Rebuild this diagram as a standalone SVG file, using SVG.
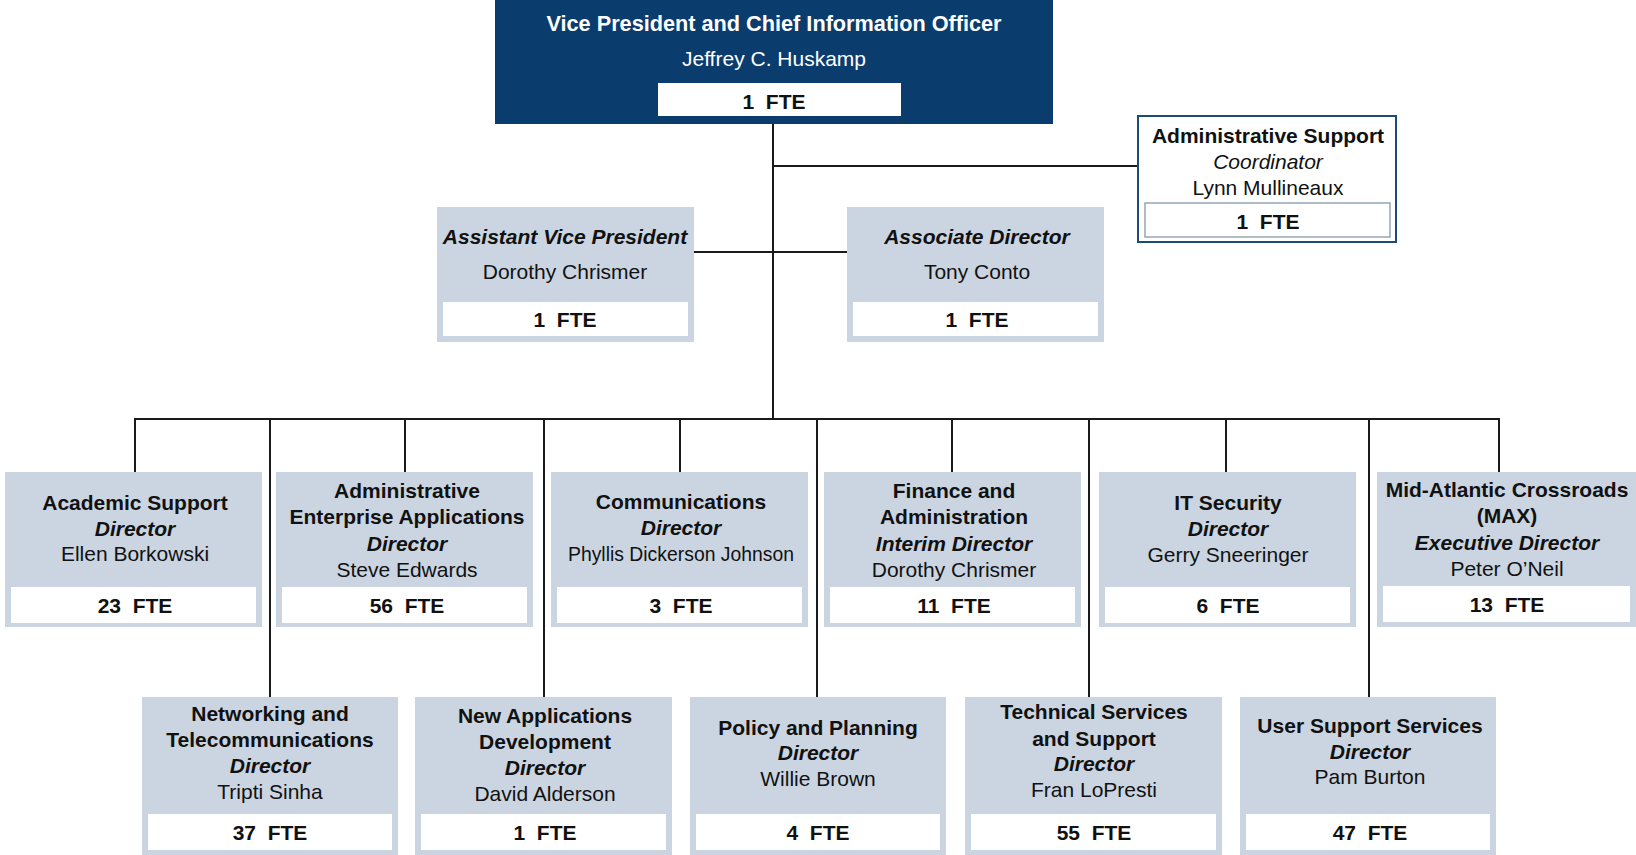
<svg xmlns="http://www.w3.org/2000/svg" width="1636" height="855" viewBox="0 0 1636 855">
<style>
.bg{fill:#ffffff}
.top{fill:#0b3c6e}
.box{fill:#cad5e1}
.fte{fill:#ffffff}
.adm{fill:#ffffff;stroke:#1f4a78;stroke-width:2}
.admfte{fill:#ffffff;stroke:#7d8fa6;stroke-width:1.2}
.ln{stroke:#1a1a1a;stroke-width:2;fill:none}
text{font-family:"Liberation Sans",Arial,sans-serif;font-size:21px;fill:#111;text-anchor:middle;dominant-baseline:central;white-space:pre}
.b{font-weight:bold}
.i{font-style:italic}
.bi{font-weight:bold;font-style:italic}
.w{fill:#ffffff}
.title{font-size:21.7px}
</style>
<rect class="bg" x="0" y="0" width="1636" height="855"/>
<g id="connectors">
<line class="ln" x1="773" y1="124" x2="773" y2="419"/>
<line class="ln" x1="773" y1="166" x2="1138" y2="166"/>
<line class="ln" x1="694" y1="252" x2="847" y2="252"/>
<line class="ln" x1="134" y1="419" x2="1500" y2="419"/>
<line class="ln" x1="135" y1="419" x2="135" y2="472"/>
<line class="ln" x1="405" y1="419" x2="405" y2="472"/>
<line class="ln" x1="680" y1="419" x2="680" y2="472"/>
<line class="ln" x1="952" y1="419" x2="952" y2="472"/>
<line class="ln" x1="1226" y1="419" x2="1226" y2="472"/>
<line class="ln" x1="1499" y1="419" x2="1499" y2="472"/>
<line class="ln" x1="270" y1="419" x2="270" y2="697"/>
<line class="ln" x1="544" y1="419" x2="544" y2="697"/>
<line class="ln" x1="817" y1="419" x2="817" y2="697"/>
<line class="ln" x1="1089" y1="419" x2="1089" y2="697"/>
<line class="ln" x1="1369" y1="419" x2="1369" y2="697"/>
</g>
<g id="vp">
<rect class="top" x="495" y="0" width="558" height="124"/>
<text class="b w title" x="774" y="23">Vice President and Chief Information Officer</text>
<text class="w" x="774" y="58">Jeffrey C. Huskamp</text>
<rect class="fte" x="658" y="83" width="243" height="33"/>
<text class="b" x="774" y="101" xml:space="preserve">1  FTE</text>
</g>
<g id="admin-support">
<rect class="adm" x="1138" y="116" width="258" height="126"/>
<text class="b" x="1268" y="135">Administrative Support</text>
<text class="i" x="1268" y="161">Coordinator</text>
<text x="1268" y="187">Lynn Mullineaux</text>
<rect class="admfte" x="1145" y="203" width="245" height="34"/>
<text class="b" x="1268" y="221" xml:space="preserve">1  FTE</text>
</g>
<g id="avp">
<rect class="box" x="437" y="207" width="257" height="135"/>
<text class="bi" x="565" y="236">Assistant Vice President</text>
<text x="565" y="271">Dorothy Chrismer</text>
<rect class="fte" x="443" y="302" width="245" height="34"/>
<text class="b" x="565" y="319" xml:space="preserve">1  FTE</text>
</g>
<g id="assoc">
<rect class="box" x="847" y="207" width="257" height="135"/>
<text class="bi" x="977" y="236">Associate Director</text>
<text x="977" y="271">Tony Conto</text>
<rect class="fte" x="853" y="302" width="245" height="34"/>
<text class="b" x="977" y="319" xml:space="preserve">1  FTE</text>
</g>
<g id="academic">
<rect class="box" x="5" y="472" width="257" height="155"/>
<text class="b" x="135" y="502">Academic Support</text>
<text class="bi" x="135" y="528">Director</text>
<text x="135" y="553">Ellen Borkowski</text>
<rect class="fte" x="11" y="587" width="245" height="36"/>
<text class="b" x="135" y="605" xml:space="preserve">23  FTE</text>
</g>
<g id="admin-enterprise">
<rect class="box" x="276" y="472" width="257" height="155"/>
<text class="b" x="407" y="490">Administrative</text>
<text class="b" x="407" y="516">Enterprise Applications</text>
<text class="bi" x="407" y="543">Director</text>
<text x="407" y="569">Steve Edwards</text>
<rect class="fte" x="282" y="587" width="245" height="36"/>
<text class="b" x="407" y="605" xml:space="preserve">56  FTE</text>
</g>
<g id="communications">
<rect class="box" x="551" y="472" width="257" height="155"/>
<text class="b" x="681" y="501">Communications</text>
<text class="bi" x="681" y="527">Director</text>
<text x="681" y="553" textLength="226" lengthAdjust="spacingAndGlyphs">Phyllis Dickerson Johnson</text>
<rect class="fte" x="557" y="587" width="245" height="36"/>
<text class="b" x="681" y="605" xml:space="preserve">3  FTE</text>
</g>
<g id="finance">
<rect class="box" x="824" y="472" width="257" height="155"/>
<text class="b" x="954" y="490">Finance and</text>
<text class="b" x="954" y="516">Administration</text>
<text class="bi" x="954" y="543">Interim Director</text>
<text x="954" y="569">Dorothy Chrismer</text>
<rect class="fte" x="830" y="587" width="245" height="36"/>
<text class="b" x="954" y="605" xml:space="preserve">11  FTE</text>
</g>
<g id="it-security">
<rect class="box" x="1099" y="472" width="257" height="155"/>
<text class="b" x="1228" y="502">IT Security</text>
<text class="bi" x="1228" y="528">Director</text>
<text x="1228" y="554">Gerry Sneeringer</text>
<rect class="fte" x="1105" y="587" width="245" height="36"/>
<text class="b" x="1228" y="605" xml:space="preserve">6  FTE</text>
</g>
<g id="max">
<rect class="box" x="1377" y="472" width="259" height="155"/>
<text class="b" x="1507" y="489">Mid-Atlantic Crossroads</text>
<text class="b" x="1507" y="515">(MAX)</text>
<text class="bi" x="1507" y="542">Executive Director</text>
<text x="1507" y="568">Peter O’Neil</text>
<rect class="fte" x="1383" y="586" width="247" height="36"/>
<text class="b" x="1507" y="604" xml:space="preserve">13  FTE</text>
</g>
<g id="networking">
<rect class="box" x="142" y="697" width="256" height="158"/>
<text class="b" x="270" y="713">Networking and</text>
<text class="b" x="270" y="739">Telecommunications</text>
<text class="bi" x="270" y="765">Director</text>
<text x="270" y="791">Tripti Sinha</text>
<rect class="fte" x="148" y="814" width="244" height="36"/>
<text class="b" x="270" y="832" xml:space="preserve">37  FTE</text>
</g>
<g id="new-apps">
<rect class="box" x="415" y="697" width="257" height="158"/>
<text class="b" x="545" y="715">New Applications</text>
<text class="b" x="545" y="741">Development</text>
<text class="bi" x="545" y="767">Director</text>
<text x="545" y="793">David Alderson</text>
<rect class="fte" x="421" y="814" width="245" height="36"/>
<text class="b" x="545" y="832" xml:space="preserve">1  FTE</text>
</g>
<g id="policy">
<rect class="box" x="690" y="697" width="256" height="158"/>
<text class="b" x="818" y="727">Policy and Planning</text>
<text class="bi" x="818" y="752">Director</text>
<text x="818" y="778">Willie Brown</text>
<rect class="fte" x="696" y="814" width="244" height="36"/>
<text class="b" x="818" y="832" xml:space="preserve">4  FTE</text>
</g>
<g id="technical">
<rect class="box" x="965" y="697" width="257" height="158"/>
<text class="b" x="1094" y="711">Technical Services</text>
<text class="b" x="1094" y="738">and Support</text>
<text class="bi" x="1094" y="763">Director</text>
<text x="1094" y="789">Fran LoPresti</text>
<rect class="fte" x="971" y="814" width="245" height="36"/>
<text class="b" x="1094" y="832" xml:space="preserve">55  FTE</text>
</g>
<g id="user-support">
<rect class="box" x="1240" y="697" width="256" height="158"/>
<text class="b" x="1370" y="725">User Support Services</text>
<text class="bi" x="1370" y="751">Director</text>
<text x="1370" y="776">Pam Burton</text>
<rect class="fte" x="1246" y="814" width="244" height="36"/>
<text class="b" x="1370" y="832" xml:space="preserve">47  FTE</text>
</g>
</svg>
